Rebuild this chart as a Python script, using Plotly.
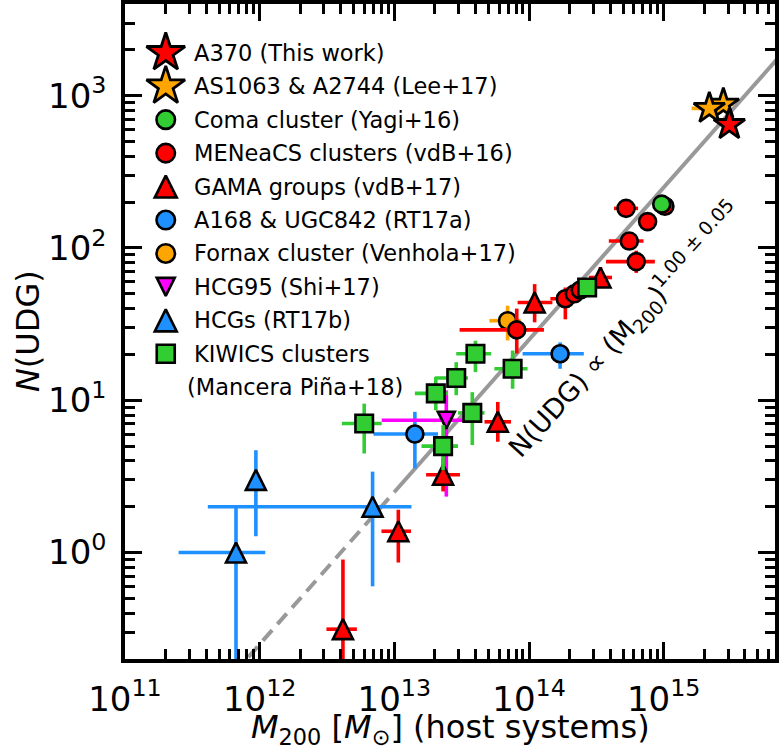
import numpy as np
import plotly.graph_objects as go

# ---------------- data: halo mass M200 [Msun] and number of UDGs ----------------
# A370 (This work)
A370_M = [3.07e15]
A370_N = [646]

# AS1063 & A2744 (Lee+17)
LEE_M = [2.77e15, 2.18e15]
LEE_N = [880, 825]
LEE_M_LO = [2.30e15, 1.61e15]
LEE_M_HI = [3.30e15, 2.95e15]

# Coma cluster (Yagi+16)
COMA_M = [9.66e14]
COMA_N = [194]

# MENeaCS clusters (vdB+16)
MEN_M = [5.25e14, 7.59e14, 5.55e14, 6.25e14, 1.02e15, 1.86e14, 2.17e14, 2.40e14, 8.1e13]
MEN_N = [182, 149, 111, 81.4, 188, 46.4, 50, 53, 29]
MEN_M_LO = [4.27e14, 7.59e14, 3.91e14, 3.73e14, 1.02e15, 1.44e14, 2.17e14, 2.40e14, 3.05e13]
MEN_M_HI = [6.45e14, 7.59e14, 7.08e14, 8.59e14, 1.02e15, 2.40e14, 2.17e14, 2.40e14, 1.29e14]
MEN_N_LO = [182, 149, 111, 68.6, 188, 34, 50, 53, 20.3]
MEN_N_HI = [182, 149, 111, 96, 188, 55, 50, 53, 40]

# GAMA groups (vdB+17)
GAMA_M = [1.10e14, 3.39e14, 5.86e13, 2.30e13, 1.07e13, 4.15e12]
GAMA_N = [43.9, 64, 7.22, 3.24, 1.38, 0.314]
GAMA_M_LO = [8.22e13, 2.78e14, 4.67e13, 1.72e13, 8.02e12, 3.13e12]
GAMA_M_HI = [1.49e14, 4.13e14, 7.35e13, 3.07e13, 1.33e13, 5.27e12]
GAMA_N_LO = [32.5, 55, 5.34, 2.52, 0.86, 0.05]
GAMA_N_HI = [57.9, 75, 9.75, 4.2, 1.91, 0.9]

# A168 & UGC842 (RT17a)
RT17A_M = [1.70e14, 1.42e13]
RT17A_N = [20.2, 6.0]
RT17A_M_LO = [8.95e13, 7.0e12]
RT17A_M_HI = [2.55e14, 2.11e13]
RT17A_N_LO = [16.1, 3.57]
RT17A_N_HI = [24.0, 8.4]

# Fornax cluster (Venhola+17)
FORNAX_M = [6.93e13]
FORNAX_N = [33.3]
FORNAX_M_LO = [5.08e13]
FORNAX_M_HI = [8.65e13]
FORNAX_N_LO = [24.7]
FORNAX_N_HI = [41.8]

# HCG95 (Shi+17)
HCG95_M = [2.43e13]
HCG95_N = [7.4]
HCG95_M_LO = [8.06e12]
HCG95_M_HI = [3.33e13]
HCG95_N_LO = [2.33]
HCG95_N_HI = [11.6]

# HCGs (RT17b)
RT17B_M = [9.37e11, 6.67e11, 6.89e12]
RT17B_N = [3.0, 1.0, 2.0]
RT17B_M_LO = [9.37e11, 2.50e11, 4.12e11]
RT17B_M_HI = [9.37e11, 1.10e12, 1.34e13]
RT17B_N_LO = [1.28, 0.05, 0.6]
RT17B_N_HI = [4.7, 2.0, 3.4]

# KIWICS clusters (Mancera Pina+18)
KIW_M = [5.97e12, 2.03e13, 2.88e13, 4.0e13, 7.55e13, 3.79e13, 2.30e13, 2.70e14]
KIW_N = [7.04, 11.1, 14.0, 20.2, 16.1, 8.26, 5.0, 55]
KIW_M_LO = [4.08e12, 1.42e13, 2.0e13, 2.88e13, 5.53e13, 2.97e13, 1.59e13, 2.35e14]
KIW_M_HI = [8.05e12, 2.5e13, 3.52e13, 5.23e13, 9.75e13, 4.67e13, 2.97e13, 3.10e14]
KIW_N_LO = [4.47, 8.6, 10.8, 15.3, 11.9, 5.08, 3.48, 50]
KIW_N_HI = [9.5, 14.2, 17.8, 24.6, 21.2, 11.3, 6.86, 62]

# power-law relation N(UDG) = (M200 / M_NORM)^SLOPE
SLOPE = 1.00
M_NORM = 4.0e12
M_SOLID = [1.0e13, 7.0e15]
M_DASHED = [5.0e11, 1.0e13]

# axes
X_RANGE = [1e11, 6.7e15]
Y_RANGE = [0.2, 4000]
X_TICKS = [1e11, 1e12, 1e13, 1e14, 1e15]
X_TICK_TEXT = ["10<sup>11</sup>", "10<sup>12</sup>", "10<sup>13</sup>", "10<sup>14</sup>", "10<sup>15</sup>"]
Y_TICKS = [1, 10, 100, 1000]
Y_TICK_TEXT = ["10<sup>0</sup>", "10<sup>1</sup>", "10<sup>2</sup>", "10<sup>3</sup>"]

LEGEND_LABELS = [
    "A370 (This work)",
    "AS1063 & A2744 (Lee+17)",
    "Coma cluster (Yagi+16)",
    "MENeaCS clusters (vdB+16)",
    "GAMA groups (vdB+17)",
    "A168 & UGC842 (RT17a)",
    "Fornax cluster (Venhola+17)",
    "HCG95 (Shi+17)",
    "HCGs (RT17b)",
    "KIWICS clusters<br>(Mancera Piña+18)",
]

# ---------------- styles ----------------
RED = "#ff0000"
ORANGE = "#ffa500"
GREEN = "#32cd32"
BLUE = "#1e90ff"
MAGENTA = "#ff00ff"
FONT = "DejaVu Sans"

# marker shapes: (plotly symbol, angle, standoff factor); arrow + standoff gives a centred equilateral-ish triangle
SHAPES = {
    "star": ("star", 0, 0.0),
    "circle": ("circle", 0, 0.0),
    "square": ("square", 0, 0.0),
    "tri_up": ("arrow-down", 180, 0.5),
    "tri_down": ("arrow-down", 0, 0.5),
}
DATA_SIZE = {"star": 23.5, "circle": 17, "square": 17.5, "tri_up": 20, "tri_down": 17}
LEGEND_SIZE = {"star": 29, "circle": 18.5, "square": 18, "tri_up": 22, "tri_down": 18}


def marker(shape, color, size):
    sym, ang, so = SHAPES[shape]
    return dict(symbol=sym, angle=ang, standoff=so * size, size=size, color=color,
                line=dict(color="black", width=2.6 if shape != "star" else 2.8))


def errs(v, lo, hi):
    if lo is None:
        return None
    v = np.asarray(v, float)
    return dict(type="data", array=np.asarray(hi, float) - v, arrayminus=v - np.asarray(lo, float),
                width=0, thickness=3.6)


fig = go.Figure()

# relation: dashed at low mass, solid above 1e13
for m_pts, dash in ((M_DASHED, "14px,8px"), (M_SOLID, "solid")):
    m_arr = np.array(m_pts)
    fig.add_trace(go.Scatter(x=m_arr, y=(m_arr / M_NORM) ** SLOPE, mode="lines",
                             line=dict(color="#999999", width=4, dash=dash),
                             showlegend=False, hoverinfo="skip"))

SETS = [
    # (m, n, m_lo, m_hi, n_lo, n_hi, shape, color)
    (RT17B_M, RT17B_N, RT17B_M_LO, RT17B_M_HI, RT17B_N_LO, RT17B_N_HI, "tri_up", BLUE),
    (RT17A_M, RT17A_N, RT17A_M_LO, RT17A_M_HI, RT17A_N_LO, RT17A_N_HI, "circle", BLUE),
    (HCG95_M, HCG95_N, HCG95_M_LO, HCG95_M_HI, HCG95_N_LO, HCG95_N_HI, "tri_down", MAGENTA),
    (FORNAX_M, FORNAX_N, FORNAX_M_LO, FORNAX_M_HI, FORNAX_N_LO, FORNAX_N_HI, "circle", ORANGE),
    (GAMA_M, GAMA_N, GAMA_M_LO, GAMA_M_HI, GAMA_N_LO, GAMA_N_HI, "tri_up", RED),
    (MEN_M, MEN_N, MEN_M_LO, MEN_M_HI, MEN_N_LO, MEN_N_HI, "circle", RED),
    (KIW_M, KIW_N, KIW_M_LO, KIW_M_HI, KIW_N_LO, KIW_N_HI, "square", GREEN),
    (COMA_M, COMA_N, None, None, None, None, "circle", GREEN),
    (LEE_M, LEE_N, LEE_M_LO, LEE_M_HI, None, None, "star", ORANGE),
    (A370_M, A370_N, None, None, None, None, "star", RED),
]

for m, n, mlo, mhi, nlo, nhi, shape, color in SETS:
    ex = errs(m, mlo, mhi)
    ey = errs(n, nlo, nhi)
    if ex:
        ex["color"] = color
    if ey:
        ey["color"] = color
    fig.add_trace(go.Scatter(x=m, y=n, mode="markers", marker=marker(shape, color, DATA_SIZE[shape]),
                             error_x=ex, error_y=ey, showlegend=False, cliponaxis=False))

# ---------------- legend (drawn on a pixel overlay) ----------------
LEG_STYLE = [("star", RED), ("star", ORANGE), ("circle", GREEN), ("circle", RED), ("tri_up", RED),
             ("circle", BLUE), ("circle", ORANGE), ("tri_down", MAGENTA), ("tri_up", BLUE), ("square", GREEN)]
LEG_X0, LEG_Y0, LEG_ROW, LEG_TEXT_X = 166, 50, 33.6, 192

annotations = []
row = 0
for (shape, color), label in zip(LEG_STYLE, LEGEND_LABELS):
    y = LEG_Y0 + LEG_ROW * row
    fig.add_trace(go.Scatter(x=[LEG_X0], y=[y], mode="markers", xaxis="x2", yaxis="y2",
                             marker=marker(shape, color, LEGEND_SIZE[shape]),
                             showlegend=False, hoverinfo="skip", cliponaxis=False))
    for i, line in enumerate(label.split("<br>")):
        annotations.append(dict(x=LEG_TEXT_X - (7 if i else 0), y=y + LEG_ROW * i, xref="x2", yref="y2",
                                text=line, showarrow=False, xanchor="left", yanchor="middle",
                                font=dict(family=FONT, size=22.5, color="black")))
    row += 1

# relation label, rotated along the line
annotations.append(dict(x=628, y=328, xref="x2", yref="y2", showarrow=False, textangle=-47.8,
                        xanchor="center", yanchor="middle",
                        text="N(UDG) ∝ (M<sub>200</sub>)<sup>1.00 ± 0.05</sup>",
                        font=dict(family=FONT, size=27, color="black")))

# axis titles (paper coordinates)
PLOT_W, PLOT_H, PLOT_L, PLOT_B = 654, 658, 125, 659
annotations.append(dict(x=(27 - PLOT_L) / PLOT_W, y=0.5, xref="paper", yref="paper", showarrow=False,
                        xanchor="center", yanchor="middle", textangle=-90, text="<i>N</i>(UDG)",
                        font=dict(family=FONT, size=32, color="black")))
annotations.append(dict(x=0.5, y=(PLOT_B - 729) / PLOT_H, xref="paper", yref="paper", showarrow=False,
                        xanchor="center", yanchor="middle",
                        text="<i>M</i><sub>200</sub> [<i>M</i><sub>⊙</sub>] (host systems)",
                        font=dict(family=FONT, size=32, color="black")))

x_minor = [k * 10.0 ** e for e in range(11, 16) for k in range(2, 10)]
y_minor = [k * 10.0 ** e for e in range(-1, 4) for k in range(2, 10)]

axis_common = dict(type="log", showgrid=False, zeroline=False, showline=True, linecolor="black",
                   linewidth=3.5, mirror="allticks", ticks="inside", ticklen=17, tickwidth=3,
                   tickcolor="black", tickmode="array",
                   tickfont=dict(family=FONT, size=34, color="black"))

fig.update_layout(
    width=779, height=749,
    margin=dict(l=125, r=0, t=1, b=90),
    paper_bgcolor="white", plot_bgcolor="white",
    showlegend=False,
    xaxis=dict(**axis_common, range=[np.log10(X_RANGE[0]), np.log10(X_RANGE[1])],
               tickvals=X_TICKS, ticktext=X_TICK_TEXT, ticklabelstandoff=7,
               minor=dict(tickmode="array", tickvals=x_minor, ticks="inside", ticklen=10,
                          tickwidth=2.5, tickcolor="black", showgrid=False)),
    yaxis=dict(**axis_common, range=[np.log10(Y_RANGE[0]), np.log10(Y_RANGE[1])],
               tickvals=Y_TICKS, ticktext=Y_TICK_TEXT, ticklabelstandoff=8,
               minor=dict(tickmode="array", tickvals=y_minor, ticks="inside", ticklen=10,
                          tickwidth=2.5, tickcolor="black", showgrid=False)),
    xaxis2=dict(overlaying="x", anchor="y2", range=[125, 779], visible=False),
    yaxis2=dict(overlaying="y", anchor="x2", range=[659, 1], visible=False),
    annotations=annotations,
)

fig.write_html("out.html")
